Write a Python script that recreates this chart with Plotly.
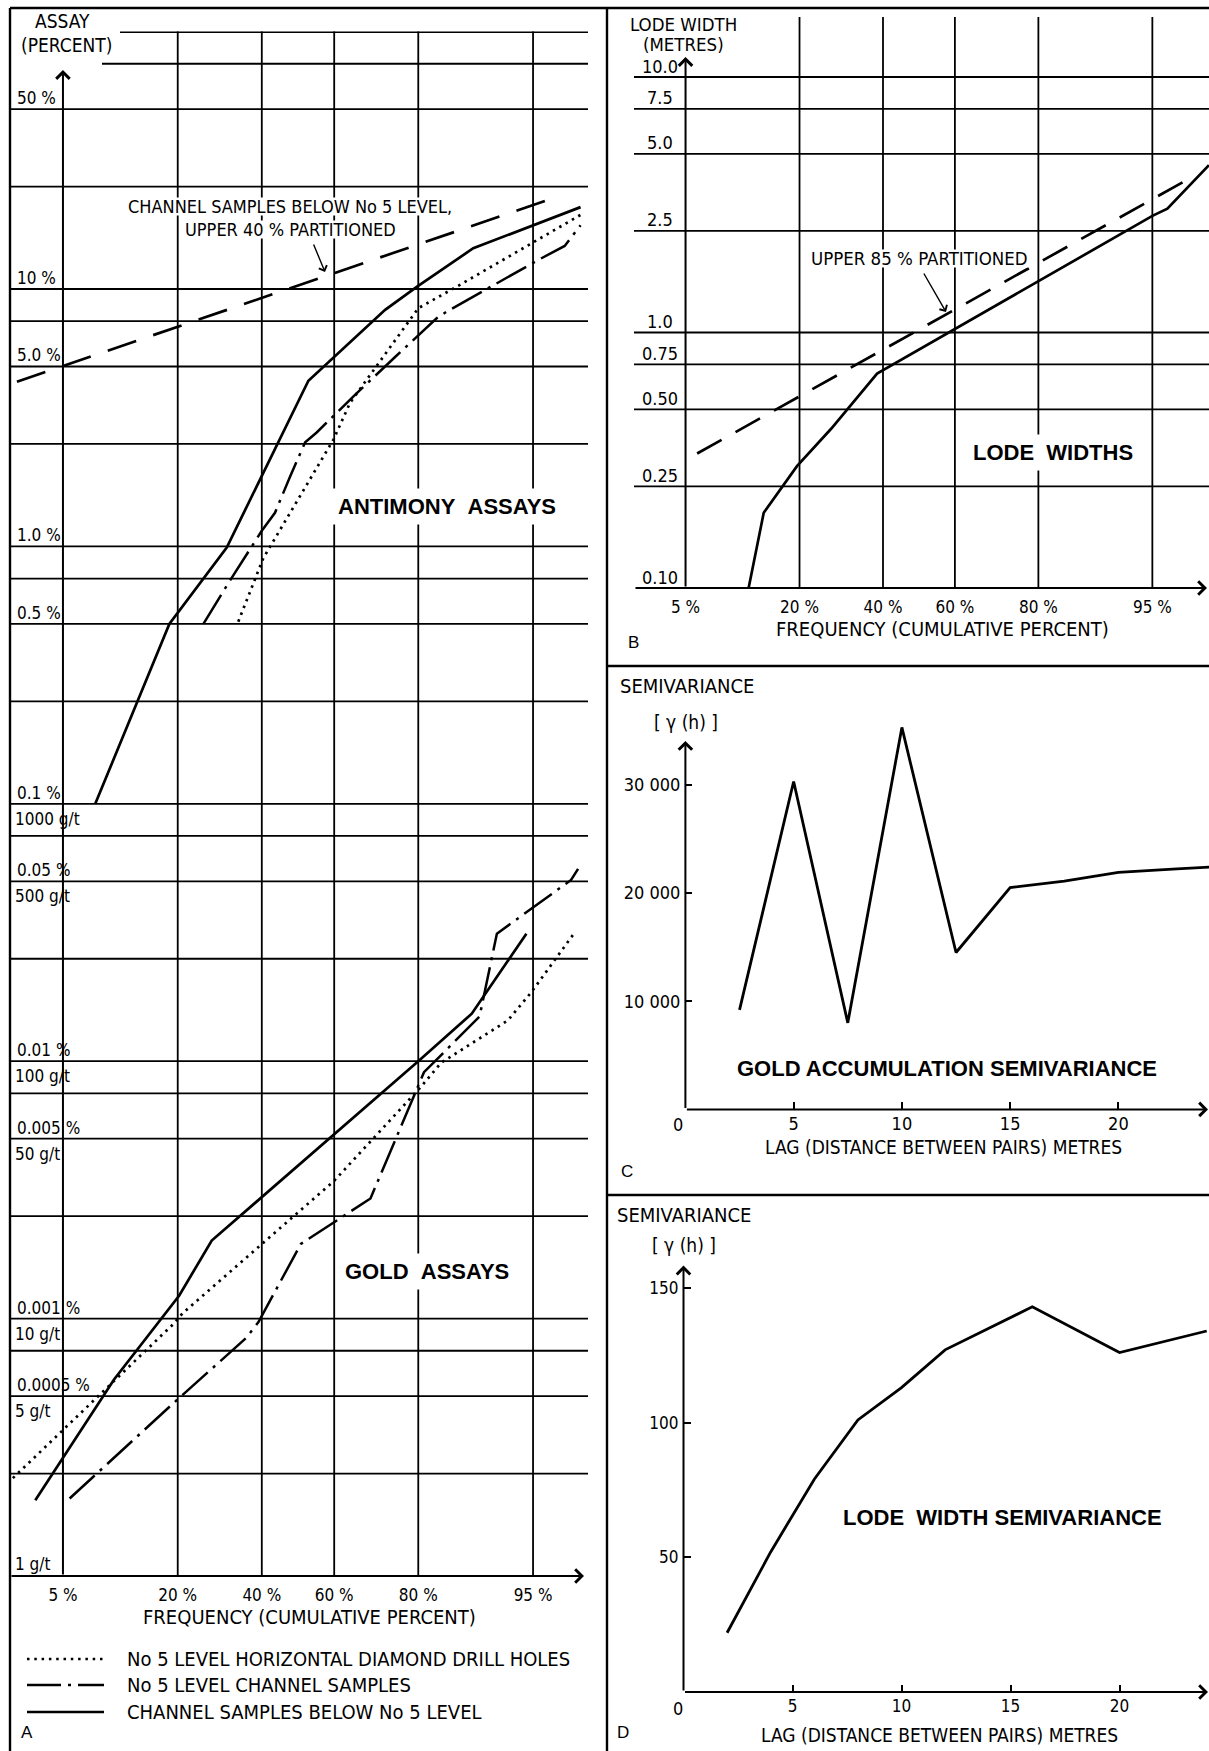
import math
from statistics import NormalDist
import plotly.graph_objects as go

# ---------------- data ----------------
FREQ_TICKS = [5, 20, 40, 60, 80, 95]
FREQ_TICKTEXT = ["5 %", "20 %", "40 %", "60 %", "80 %", "95 %"]

# Panel A - antimony assays (percent) vs cumulative frequency (percent)
sb_below_freq = [7.8, 18.4, 30.9, 52.9, 72.9, 79.7, 89.0, 97.6]
sb_below_assay = [0.10, 0.50, 0.99, 4.4, 8.3, 10.2, 14.4, 20.8]
sb_chan5_freq = [25.4, 31.3, 40.0, 43.6, 47.8, 52.0, 55.2, 65.5, 75.1, 83.4, 85.1, 91.3, 95.4, 96.9, 97.6]
sb_chan5_assay = [0.50, 0.72, 1.15, 1.35, 1.87, 2.54, 2.77, 3.88, 5.43, 7.70, 8.17, 10.3, 13.0, 14.7, 17.7]
sb_ddh_freq = [33.8, 40.4, 59.8, 64.2, 80.0, 87.2, 97.6]
sb_ddh_assay = [0.51, 0.90, 2.60, 3.61, 8.42, 10.4, 19.4]
sb_part_freq = [2.46, 96.5]
sb_part_assay = [4.36, 22.8]

# Panel A - gold assays (g/t) vs cumulative frequency (percent)
au_below_freq = [3.3, 9.9, 20.3, 27.3, 80.0, 88.8, 94.5]
au_below_gpt = [1.97, 5.8, 12.3, 20.1, 100, 153, 313]
au_chan5_freq = [5.5, 19.9, 35.8, 39.1, 50.8, 69.4, 81.1, 89.8, 91.8, 97.2, 97.5]
au_chan5_gpt = [2.0, 4.84, 8.4, 9.7, 19.5, 29.3, 90.6, 149, 313, 506, 559]
au_ddh_freq = [2.3, 19.1, 21.0, 59.9, 80.4, 84.2, 92.9, 94.9, 97.3]
au_ddh_gpt = [2.4, 9.5, 10.5, 34.2, 79, 98.7, 144, 186, 311]

ASSAY_PCT_TICKS = [50, 10, 5, 1, 0.5, 0.1, 0.05, 0.01, 0.005, 0.001, 0.0005]
ASSAY_PCT_TEXT = ["50 %", "10 %", "5.0 %", "1.0 %", "0.5 %", "0.1 %", "0.05 %", "0.01 %",
                  "0.005 %", "0.001 %", "0.0005 %"]
GOLD_GPT_TICKS = [1000, 500, 100, 50, 10, 5]
GOLD_GPT_TEXT = ["1000 g/t", "500 g/t", "100 g/t", "50 g/t", "10 g/t", "5 g/t"]
ASSAY_GRID = [100, 75, 50, 25, 10, 7.5, 5, 2.5, 1, 0.75, 0.5, 0.25, 0.1, 0.075, 0.05, 0.025,
              0.01, 0.0075, 0.005, 0.0025, 0.001, 0.00075, 0.0005, 0.00025]

# Panel B - lode widths (metres)
lw_freq = [11.5, 13.7, 19.5, 26.8, 38.4, 95.0, 96.0, 97.95]
lw_m = [0.10, 0.197, 0.30, 0.42, 0.69, 2.86, 3.05, 4.52]
lw_part_freq = [5.9, 97.2]
lw_part_m = [0.336, 4.02]
LODE_TICKS = [10, 7.5, 5, 2.5, 1, 0.75, 0.5, 0.25, 0.1]
LODE_TEXT = ["10.0", "7.5", "5.0", "2.5", "1.0", "0.75", "0.50", "0.25", "0.10"]

# Panel C - gold accumulation semivariance
lag_c = [2.5, 5, 7.5, 10, 12.5, 15, 17.5, 20, 22.5, 24.2]
gam_c = [9200, 30300, 8000, 35300, 14500, 20500, 21100, 21900, 22200, 22400]
C_YTICKS = [10000, 20000, 30000]
C_YTEXT = ["10 000", "20 000", "30 000"]

# Panel D - lode width semivariance
lag_d = [2, 4, 6, 8, 10, 12, 16, 20, 24]
gam_d = [22, 52, 79, 101, 113, 127, 143, 126, 134]
D_YTICKS = [50, 100, 150]

LAG_TICKS = [5, 10, 15, 20]

# ---------------- helpers ----------------
W, H = 1209, 1751
ND = NormalDist()


def zq(p):
    return ND.inv_cdf(p / 100.0)


def PX(X):
    return X / W


def PY(Y):
    return 1 - Y / H


COND = "DejaVu Sans Condensed, Liberation Sans Narrow, sans-serif"
REG = "Liberation Sans, Arial, sans-serif"
BLACK = "black"

# geometry (pixels)
A_L, A_R, A_T, A_B = 10, 588, 31.6, 1576
A_ZC, A_ZS = 298.0, 142.9
B_L, B_R, B_T, B_B = 634, 1209, 17, 588
B_ZC, B_ZS = 918.95, 141.9
C_L, C_R, C_T, C_B = 685.4, 1209, 718, 1109.4
D_L, D_R, D_T, D_B = 683.5, 1209, 1265.6, 1692


def zA(X):
    return (X - A_ZC) / A_ZS


def zB(X):
    return (X - B_ZC) / B_ZS


fig = go.Figure()

SOLID = dict(color=BLACK, width=2.7)
DOT = dict(color=BLACK, width=2.7, dash="2.5px,4.8px")
DASHDOT = dict(color=BLACK, width=2.5, dash="34px,7px,3px,7px")
DASH = dict(color=BLACK, width=2.7, dash="30px,18px")


def add(xf, yv, line, xa, ya):
    fig.add_trace(go.Scatter(x=[zq(p) for p in xf], y=yv, mode="lines", line=line,
                             xaxis=xa, yaxis=ya, hoverinfo="skip", showlegend=False))


# Panel A traces
add(sb_part_freq, sb_part_assay, DASH, "x", "y")
add(sb_ddh_freq, sb_ddh_assay, DOT, "x", "y")
add(sb_chan5_freq, sb_chan5_assay, DASHDOT, "x", "y")
add(sb_below_freq, sb_below_assay, SOLID, "x", "y")
add(au_ddh_freq, [g / 10000 for g in au_ddh_gpt], DOT, "x", "y")
add(au_chan5_freq, [g / 10000 for g in au_chan5_gpt], DASHDOT, "x", "y")
add(au_below_freq, [g / 10000 for g in au_below_gpt], SOLID, "x", "y")
# Panel B traces
add(lw_part_freq, lw_part_m, dict(color=BLACK, width=2.7, dash="28px,16px"), "x2", "y2")
add(lw_freq, lw_m, SOLID, "x2", "y2")
# Panel C, D
fig.add_trace(go.Scatter(x=lag_c, y=gam_c, mode="lines", line=dict(color=BLACK, width=2.8),
                         xaxis="x3", yaxis="y3", hoverinfo="skip", showlegend=False))
fig.add_trace(go.Scatter(x=lag_d, y=gam_d, mode="lines", line=dict(color=BLACK, width=2.8),
                         xaxis="x4", yaxis="y4", hoverinfo="skip", showlegend=False))

shapes = []
ann = []


def hline(y, xref, yref, x0=0, x1=1, width=1.8):
    shapes.append(dict(type="line", xref=xref, yref=yref, x0=x0, x1=x1, y0=y, y1=y,
                       line=dict(color=BLACK, width=width), layer="below"))


def vline(x, xref, yref, y0=0, y1=1, width=1.8):
    shapes.append(dict(type="line", xref=xref, yref=yref, x0=x, x1=x, y0=y0, y1=y1,
                       line=dict(color=BLACK, width=width), layer="below"))


def text(X, Y, s, size=20, fam=COND, xanchor="center", bg=None, pad=1, **kw):
    d = dict(x=PX(X), y=PY(Y), xref="paper", yref="paper", text=s, showarrow=False,
             xanchor=xanchor, yanchor="middle", font=dict(family=fam, size=size, color=BLACK),
             borderpad=pad)
    if bg:
        d["bgcolor"] = bg
    d.update(kw)
    ann.append(d)


def axarrow(xh, yh, xt, yt, xref, yref, width=2.0):
    ann.append(dict(x=xh, y=yh, ax=xt, ay=yt, xref=xref, yref=yref, axref=xref, ayref=yref,
                    text="", showarrow=True, arrowhead=4, arrowsize=1.3, arrowwidth=width,
                    arrowcolor=BLACK))


def ptr(Xh, Yh, Xt, Yt):
    ann.append(dict(x=PX(Xh), y=PY(Yh), xref="paper", yref="paper", ax=Xt - Xh, ay=Yt - Yh,
                    text="", showarrow=True, arrowhead=4, arrowsize=1.2, arrowwidth=1.4,
                    arrowcolor=BLACK))


# ---- frame / panel dividers ----
FR = dict(color=BLACK, width=2.4)
shapes += [
    dict(type="line", xref="paper", yref="paper", x0=PX(10), x1=1, y0=PY(8), y1=PY(8), line=FR),
    dict(type="line", xref="paper", yref="paper", x0=PX(10), x1=PX(10), y0=PY(8), y1=0, line=FR),
    dict(type="line", xref="paper", yref="paper", x0=PX(607), x1=PX(607), y0=PY(8), y1=0, line=FR),
    dict(type="line", xref="paper", yref="paper", x0=PX(607), x1=1, y0=PY(666), y1=PY(666), line=FR),
    dict(type="line", xref="paper", yref="paper", x0=PX(607), x1=1, y0=PY(1195), y1=PY(1195), line=FR),
]

# ---- Panel A grid ----
for v in ASSAY_GRID:
    x0 = 0
    w = 1.8
    if v == 100:
        x0, w = (120 - A_L) / (A_R - A_L), 3
    elif v == 75:
        x0 = (102 - A_L) / (A_R - A_L)
    hline(v, "x domain", "y", x0=x0, width=w)
for p in FREQ_TICKS[1:]:
    vline(zq(p), "x", "y domain")
axarrow(zq(5), 1 - (70 - 289) / 257.4, zq(5), -4, "x", "y")
axarrow(zA(584), -4, zA(A_L), -4, "x", "y")

for v, s in zip(ASSAY_PCT_TICKS, ASSAY_PCT_TEXT):
    ann.append(dict(x=PX(15), y=math.log10(v), xref="paper", yref="y", text=s, showarrow=False,
                    xanchor="left", yanchor="middle", yshift=11,
                    font=dict(family=COND, size=17, color=BLACK)))
for g, s in zip(GOLD_GPT_TICKS, GOLD_GPT_TEXT):
    ann.append(dict(x=PX(13), y=math.log10(g / 10000), xref="paper", yref="y", text=s,
                    showarrow=False, xanchor="left", yanchor="middle", yshift=-15,
                    font=dict(family=COND, size=17, color=BLACK)))
ann.append(dict(x=PX(13), y=math.log10(1 / 10000), xref="paper", yref="y", text="1 g/t",
                showarrow=False, xanchor="left", yanchor="middle", yshift=12,
                font=dict(family=COND, size=17, color=BLACK)))

text(62, 21, "ASSAY", size=19)
text(66, 45, "(PERCENT)", size=19)
text(290, 229, "UPPER 40 % PARTITIONED", size=18, bg="white", pad=0, height=17)
text(290, 207, "CHANNEL SAMPLES BELOW No 5 LEVEL,", size=18, bg="white", pad=0, height=17)
ptr(325, 272, 313, 243)
text(447, 507, "<b>ANTIMONY\u00a0\u00a0ASSAYS</b>", size=22, fam=REG, bg="white", pad=5)
text(427, 1271, "<b>GOLD\u00a0\u00a0ASSAYS</b>", size=22, fam=REG, bg="white", pad=5)
text(309, 1617, "FREQUENCY (CUMULATIVE PERCENT)", size=20)

# legend (panel A)
LEG_ROWS = [1659, 1685, 1712]
LEG_TEXT = ["No 5 LEVEL HORIZONTAL DIAMOND DRILL HOLES", "No 5 LEVEL CHANNEL SAMPLES",
            "CHANNEL SAMPLES BELOW No 5 LEVEL"]
LEG_STYLE = [DOT, DASHDOT, SOLID]
for Y, s, st in zip(LEG_ROWS, LEG_TEXT, LEG_STYLE):
    shapes.append(dict(type="line", xref="paper", yref="paper", x0=PX(27), x1=PX(104),
                       y0=PY(Y), y1=PY(Y), line=dict(color=BLACK, width=st["width"],
                                                     dash=st.get("dash", "solid"))))
    text(125, Y, s, size=20, xanchor="left")
text(27, 1732, "A", size=17, fam=REG)

# ---- Panel B grid ----
for v in LODE_TICKS[:-1]:
    hline(v, "x2 domain", "y2")
for p in FREQ_TICKS[1:]:
    vline(zq(p), "x2", "y2 domain")
axarrow(zq(5), (332.5 - 57) / 255.5, zq(5), -1, "x2", "y2")
axarrow(zB(1207), -1, zB(B_L), -1, "x2", "y2")
for v, s in zip(LODE_TICKS, LODE_TEXT):
    ann.append(dict(x=PX(660), y=math.log10(v), xref="paper", yref="y2", text=s, showarrow=False,
                    xanchor="center", yanchor="middle", yshift=11,
                    font=dict(family=COND, size=18, color=BLACK)))
text(683, 24, "LODE WIDTH", size=18.5)
text(683, 44, "(METRES)", size=18.5)
text(919, 259, "UPPER 85 % PARTITIONED", size=18.5, bg="white", pad=0, height=17)
ptr(946, 312, 923, 272)
text(1053, 453, "<b>LODE\u00a0\u00a0WIDTHS</b>", size=22, fam=REG, bg="white", pad=5)
text(942, 629, "FREQUENCY (CUMULATIVE PERCENT)", size=20)
text(634, 643, "B", size=17, fam=REG)

# ---- Panel C ----
axarrow(0, 34050, 0, 0, "x3", "y3")
axarrow((1208 - C_L) / 21.65, 0, 0, 0, "x3", "y3")
text(687, 686, "SEMIVARIANCE")
text(686, 722, "[ \u03b3 (h) ]", size=19)
text(678, 1124, "0", size=18)
text(943, 1147, "LAG (DISTANCE BETWEEN PAIRS) METRES", size=19)
text(947, 1068, "<b>GOLD ACCUMULATION SEMIVARIANCE</b>", size=22, fam=REG)
text(627, 1171, "C", size=17, fam=REG)

# ---- Panel D ----
axarrow(0, (D_B - D_T) / 2.694, 0, 0, "x4", "y4")
axarrow((1208 - D_L) / 21.8, 0, 0, 0, "x4", "y4")
text(684, 1215, "SEMIVARIANCE")
text(684, 1245, "[ \u03b3 (h) ]", size=19)
text(678, 1708, "0", size=18)
text(939, 1735, "LAG (DISTANCE BETWEEN PAIRS) METRES", size=19)
text(1002, 1517, "<b>LODE\u00a0\u00a0WIDTH SEMIVARIANCE</b>", size=22, fam=REG)
text(623, 1732, "D", size=17, fam=REG)

# ---------------- axes ----------------
TF17 = dict(family=COND, size=17, color=BLACK)
TF18 = dict(family=COND, size=18, color=BLACK)


def base(domain, rng, **kw):
    d = dict(domain=domain, range=rng, showgrid=False, zeroline=False, showline=False,
             fixedrange=True, tickfont=TF17)
    d.update(kw)
    return d


layout = dict(
    width=W, height=H, margin=dict(l=0, r=0, t=0, b=0), paper_bgcolor="white",
    plot_bgcolor="rgba(0,0,0,0)", showlegend=False,
    xaxis=base([PX(A_L), PX(A_R)], [zA(A_L), zA(A_R)], anchor="y",
               tickvals=[zq(p) for p in FREQ_TICKS], ticktext=FREQ_TICKTEXT, ticks="",
               ticklabelstandoff=7),
    yaxis=base([PY(A_B), PY(A_T)], [-4, 2], type="log", anchor="x", showticklabels=False),
    xaxis2=base([PX(B_L), PX(B_R)], [zB(B_L), zB(B_R)], anchor="y2",
                tickvals=[zq(p) for p in FREQ_TICKS], ticktext=FREQ_TICKTEXT, ticks="",
                ticklabelstandoff=7),
    yaxis2=base([PY(B_B), PY(B_T)], [-1, 1 + (77 - B_T) / 255.5], type="log", anchor="x2",
                showticklabels=False),
    xaxis3=base([PX(C_L), PX(C_R)], [0, (C_R - C_L) / 21.65], anchor="y3", tickfont=TF18,
                tickvals=LAG_TICKS, ticks="inside", ticklen=7, tickwidth=1.5, tickcolor=BLACK,
                ticklabelstandoff=2),
    yaxis3=base([PY(C_B), PY(C_T)], [0, (C_B - C_T) / 108.2 * 10000], anchor="x3", tickfont=TF18,
                tickvals=C_YTICKS, ticktext=C_YTEXT, ticks="inside", ticklen=7, tickwidth=1.5,
                tickcolor=BLACK, ticklabelstandoff=4),
    xaxis4=base([PX(D_L), PX(D_R)], [0, (D_R - D_L) / 21.8], anchor="y4",
                tickvals=LAG_TICKS, ticks="inside", ticklen=7, tickwidth=1.5, tickcolor=BLACK,
                ticklabelstandoff=2),
    yaxis4=base([PY(D_B), PY(D_T)], [0, (D_B - D_T) / 2.694], anchor="x4",
                tickvals=D_YTICKS, ticks="inside", ticklen=7, tickwidth=1.5, tickcolor=BLACK,
                ticklabelstandoff=4),
    shapes=shapes,
    annotations=ann,
)
fig.update_layout(**layout)
fig.write_html("out.html", config={"displayModeBar": False},
               post_script="document.body.style.margin='0';document.body.style.padding='0';")
